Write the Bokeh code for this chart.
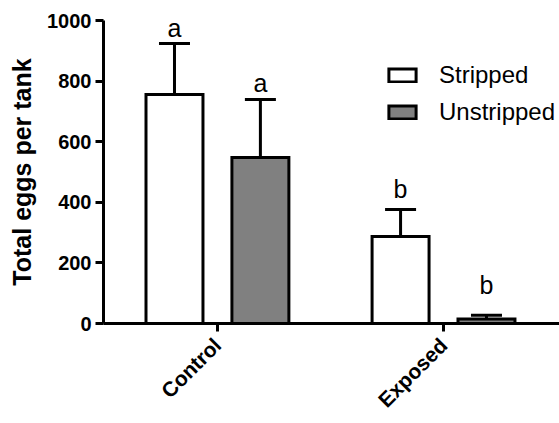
import math
from bokeh.plotting import figure
from bokeh.models import (Range1d, FixedTicker, Whisker, TeeHead, ColumnDataSource,
                          Legend, LegendItem)
from bokeh.core.properties import value
from bokeh.embed import file_html
from bokeh.resources import INLINE

# ---- data ----
categories = ["Control", "Exposed"]
stripped_mean = [756, 287]
stripped_upper = [924, 376]
unstripped_mean = [548, 15]
unstripped_upper = [739, 27]
letters_stripped = ["a", "b"]
letters_unstripped = ["a", "b"]
letter_y_stripped = [950, 419]
letter_y_unstripped = [766, 102]
y_ticks = [0, 200, 400, 600, 800, 1000]

FONT = "Liberation Sans"
pos = list(range(len(categories)))
off = 0.19
bw = 0.252
xs = [p_ - off for p_ in pos]
xu = [p_ + off for p_ in pos]

p = figure(width=559, height=423, output_backend="svg", toolbar_location=None,
           x_range=Range1d(-0.504, 1.513), y_range=Range1d(0, 1000),
           min_border_left=103, min_border_top=20, min_border_right=0,
           min_border_bottom=100)
p.outline_line_color = None
p.xgrid.visible = False
p.ygrid.visible = False
p.background_fill_color = "white"
p.border_fill_color = "white"

src_s = ColumnDataSource(dict(x=xs, top=stripped_mean, upper=stripped_upper,
                              ly=letter_y_stripped, lt=letters_stripped))
src_u = ColumnDataSource(dict(x=xu, top=unstripped_mean, upper=unstripped_upper,
                              ly=letter_y_unstripped, lt=letters_unstripped))

r_s = p.vbar(x="x", top="top", bottom=0, width=bw, source=src_s,
             fill_color="white", line_color="black", line_width=3, line_join="miter")
r_u = p.vbar(x="x", top="top", bottom=0, width=bw, source=src_u,
             fill_color="#808080", line_color="black", line_width=3, line_join="miter")

for src in (src_s, src_u):
    wk = Whisker(source=src, base="x", lower="top", upper="upper", dimension="height",
                 line_width=3, line_color="black",
                 upper_head=TeeHead(size=31, line_width=3, line_color="black"),
                 lower_head=None)
    p.add_layout(wk)
    p.text(x="x", y="ly", text="lt", source=src, text_align="center",
           text_baseline="alphabetic", text_font=value(FONT), y_offset=-8,
           text_font_size="25px", text_color="black")

# axes
p.yaxis.ticker = FixedTicker(ticks=y_ticks)
p.yaxis.minor_tick_line_color = None
p.yaxis.major_tick_in = 0
p.yaxis.major_tick_out = 8
p.yaxis.major_tick_line_width = 3
p.yaxis.axis_line_width = 3
p.yaxis.major_label_text_font = FONT
p.yaxis.major_label_text_font_style = "bold"
p.yaxis.major_label_text_font_size = "20px"
p.yaxis.major_label_text_color = "black"
p.yaxis.major_label_standoff = 4
p.yaxis.axis_label = "Total eggs per tank"
p.yaxis.axis_label_text_font = FONT
p.yaxis.axis_label_text_font_style = "bold"
p.yaxis.axis_label_text_font_size = "25px"
p.yaxis.axis_label_text_color = "black"
p.yaxis.axis_label_standoff = 8

p.xaxis.ticker = FixedTicker(ticks=pos)
p.xaxis.major_label_overrides = {i: c for i, c in zip(pos, categories)}
p.xaxis.minor_tick_line_color = None
p.xaxis.major_tick_in = 0
p.xaxis.major_tick_out = 8
p.xaxis.major_tick_line_width = 3
p.xaxis.axis_line_width = 3
p.xaxis.major_label_orientation = math.pi / 4
p.xaxis.major_label_text_font = FONT
p.xaxis.major_label_text_font_style = "bold"
p.xaxis.major_label_text_font_size = "21px"
p.xaxis.major_label_text_color = "black"
p.xaxis.major_label_standoff = 10

legend = Legend(items=[LegendItem(label="Stripped", renderers=[r_s]),
                       LegendItem(label="Unstripped", renderers=[r_u])],
                location=(282, 197), padding=0, margin=0, spacing=9,
                glyph_width=34, glyph_height=16, label_standoff=20,
                label_text_font=FONT, label_text_font_size="24px",
                label_text_color="black", border_line_color=None,
                background_fill_alpha=0)
p.add_layout(legend, "center")

open("out.html", "w").write(file_html(p, INLINE))
